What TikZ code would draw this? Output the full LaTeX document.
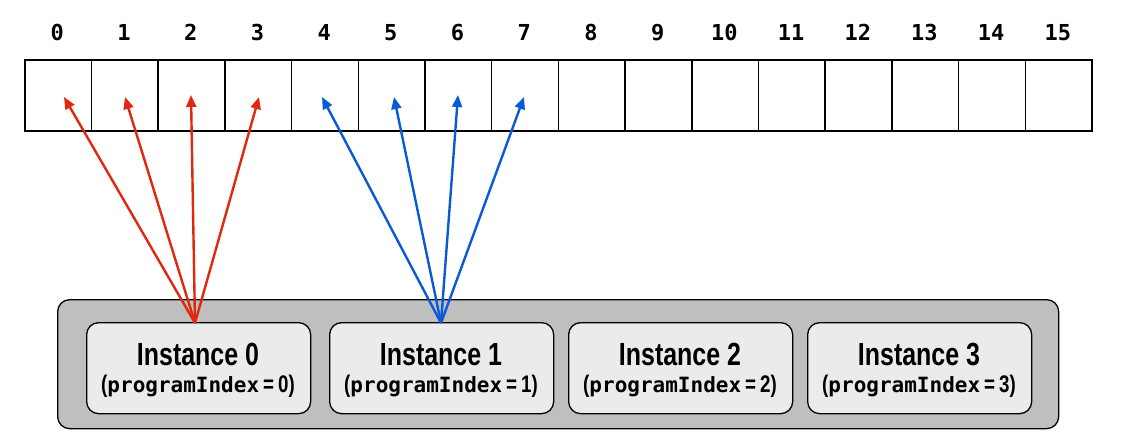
\documentclass[tikz,border=0pt]{standalone}
\usepackage{fontspec}
\setmainfont{Liberation Sans}
\newfontfamily\instfont[FakeStretch=0.78]{Liberation Sans}
\newfontfamily\codefont{DejaVu Sans Mono}
\usetikzlibrary{arrows.meta}
\definecolor{redA}{HTML}{E0280E}
\definecolor{blueA}{HTML}{0A5AD8}
\definecolor{outerG}{HTML}{BFBFBF}
\definecolor{innerG}{HTML}{EBEBEB}
\tikzset{
  cell/.style={draw=black, line width=1.5pt, minimum width=66.7pt, minimum height=71pt, inner sep=0pt, anchor=north west},
  idx/.style={font=\codefont\bfseries\fontsize{22}{22}\selectfont, anchor=base},
  inst/.style={draw=black, line width=1.3pt, fill=innerG, rounded corners=12pt, minimum width=224pt, minimum height=91pt, anchor=north west, inner sep=0pt},
  redarr/.style={draw=redA, line width=2.4pt, -{Triangle[length=12pt,width=10pt]}},
  bluearr/.style={draw=blueA, line width=2.4pt, -{Triangle[length=12pt,width=10pt]}},
}
\begin{document}
\begin{tikzpicture}[x=1pt,y=-1pt]
\useasboundingbox (0,0) rectangle (1127,442);
\foreach \i in {0,...,15}{
  \node[cell] (c\i) at ({24+66.7*\i},59) {};
  \node[idx] (l\i) at ({24+66.7*\i+33.35},40) {\i};
}
\node[draw=black, line width=1.3pt, fill=outerG, rounded corners=12pt, minimum width=1001pt, minimum height=129pt, anchor=north west, inner sep=0pt] (outer) at (57,299) {};
\foreach \i/\x in {0/86,1/329,2/568,3/807}{
  \node[inst] (i\i) at (\x,322) {};
  \node[font=\instfont\bfseries\fontsize{32}{32}\selectfont, anchor=base] (t\i) at ({\x+112},365) {Instance \i};
  \node[font=\instfont\bfseries\fontsize{24}{24}\selectfont, anchor=base] (p\i) at ({\x+112},392) {({\codefont\bfseries\fontsize{21}{21}\selectfont programIndex}\,=\,\i)};
}
\coordinate (r0) at (195,323);
\coordinate (b0) at (441,323);
\draw[redarr] (r0) -- ([xshift=40pt,yshift=-38pt]c0.north west);
\draw[redarr] (r0) -- ([xshift=34.3pt,yshift=-38pt]c1.north west);
\draw[redarr] (r0) -- ([xshift=33.6pt,yshift=-36pt]c2.north west);
\draw[redarr] (r0) -- ([xshift=34.9pt,yshift=-38pt]c3.north west);
\draw[bluearr] (b0) -- ([xshift=31.2pt,yshift=-38pt]c4.north west);
\draw[bluearr] (b0) -- ([xshift=36.5pt,yshift=-38pt]c5.north west);
\draw[bluearr] (b0) -- ([xshift=33.8pt,yshift=-36pt]c6.north west);
\draw[bluearr] (b0) -- ([xshift=33.1pt,yshift=-38pt]c7.north west);
\end{tikzpicture}
\end{document}
